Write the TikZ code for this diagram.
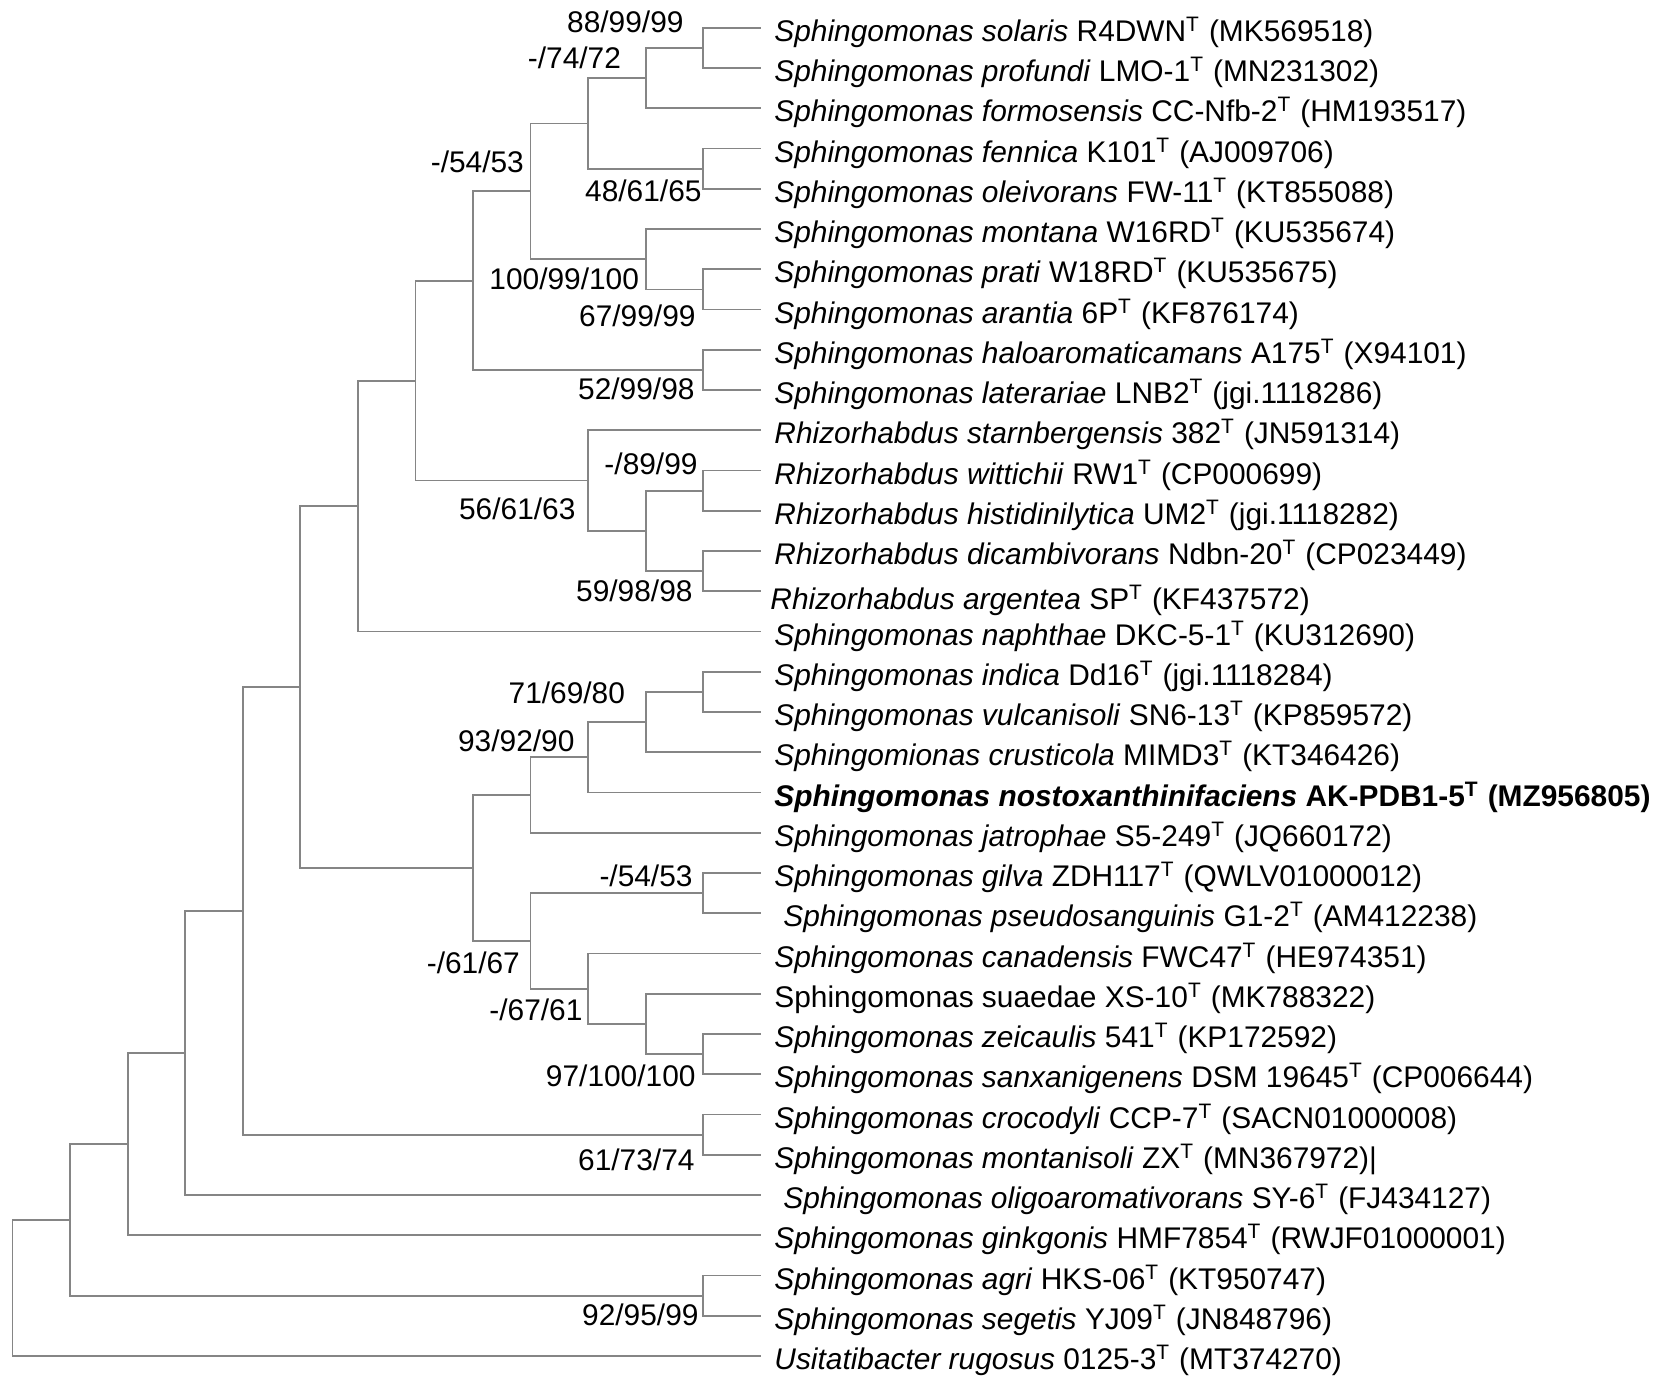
\documentclass[tikz,border=0pt]{standalone}
\usepackage{fontspec}
\setmainfont{Liberation Sans}
\usepackage{tikz}
\definecolor{branchgray}{gray}{0.52}
\tikzset{branch/.style={line width=0.5pt,color=branchgray}}
\tikzset{leaf/.style={anchor=base west,inner sep=0pt,xshift=0.13cm,yshift=-0.135cm}}
\tikzset{boot/.style={anchor=base east,inner sep=0pt}}
\newcommand{\typeT}{\textsuperscript{T}}

\begin{document}
\begin{tikzpicture}[x=0.5755cm,y=-0.4025cm,font=\fontsize{8.5}{10}\selectfont]
	\useasboundingbox (-0.219,-0.691) rectangle (28.556,33.794);
	% tips of the branches, one per strain
	\coordinate (t0) at (13,0);
	\coordinate (t1) at (13,1);
	\coordinate (t2) at (13,2);
	\coordinate (t3) at (13,3);
	\coordinate (t4) at (13,4);
	\coordinate (t5) at (13,5);
	\coordinate (t6) at (13,6);
	\coordinate (t7) at (13,7);
	\coordinate (t8) at (13,8);
	\coordinate (t9) at (13,9);
	\coordinate (t10) at (13,10);
	\coordinate (t11) at (13,11);
	\coordinate (t12) at (13,12);
	\coordinate (t13) at (13,13);
	\coordinate (t14) at (13,14);
	\coordinate (t15) at (13,15);
	\coordinate (t16) at (13,16);
	\coordinate (t17) at (13,17);
	\coordinate (t18) at (13,18);
	\coordinate (t19) at (13,19);
	\coordinate (t20) at (13,20);
	\coordinate (t21) at (13,21);
	\coordinate (t22) at (13,22);
	\coordinate (t23) at (13,23);
	\coordinate (t24) at (13,24);
	\coordinate (t25) at (13,25);
	\coordinate (t26) at (13,26);
	\coordinate (t27) at (13,27);
	\coordinate (t28) at (13,28);
	\coordinate (t29) at (13,29);
	\coordinate (t30) at (13,30);
	\coordinate (t31) at (13,31);
	\coordinate (t32) at (13,32);
	\coordinate (t33) at (13,33);

	% inner nodes: x is the depth, y the mean of the two children
	\coordinate (n1) at (12,0.5);
	\coordinate (n2) at (11,1.25);
	\coordinate (n3) at (12,3.5);
	\coordinate (n4) at (10,2.375);
	\coordinate (n5) at (12,6.5);
	\coordinate (n6) at (11,5.75);
	\coordinate (n7) at (9,4.0625);
	\coordinate (n8) at (12,8.5);
	\coordinate (n9) at (8,6.2813);
	\coordinate (n10) at (12,11.5);
	\coordinate (n11) at (12,13.5);
	\coordinate (n12) at (11,12.5);
	\coordinate (n13) at (10,11.25);
	\coordinate (n14) at (7,8.7656);
	\coordinate (n15) at (6,11.8828);
	\coordinate (n16) at (12,16.5);
	\coordinate (n17) at (11,17.25);
	\coordinate (n18) at (10,18.125);
	\coordinate (n19) at (9,19.0625);
	\coordinate (n20) at (12,21.5);
	\coordinate (n21) at (12,25.5);
	\coordinate (n22) at (11,24.75);
	\coordinate (n23) at (10,23.875);
	\coordinate (n24) at (9,22.6875);
	\coordinate (n25) at (8,20.875);
	\coordinate (n26) at (5,16.3789);
	\coordinate (n27) at (12,27.5);
	\coordinate (n28) at (4,21.9395);
	\coordinate (n29) at (3,25.4697);
	\coordinate (n30) at (2,27.7349);
	\coordinate (n31) at (12,31.5);
	\coordinate (n32) at (1,29.6174);
	\coordinate (n33) at (0,31.3087);

	% the branches
	\draw[branch] (t0) -| (n1) |- (t1);
	\draw[branch] (n1) -| (n2) |- (t2);
	\draw[branch] (t3) -| (n3) |- (t4);
	\draw[branch] (n2) -| (n4) |- (n3);
	\draw[branch] (t6) -| (n5) |- (t7);
	\draw[branch] (t5) -| (n6) |- (n5);
	\draw[branch] (n4) -| (n7) |- (n6);
	\draw[branch] (t8) -| (n8) |- (t9);
	\draw[branch] (n7) -| (n9) |- (n8);
	\draw[branch] (t11) -| (n10) |- (t12);
	\draw[branch] (t13) -| (n11) |- (t14);
	\draw[branch] (n10) -| (n12) |- (n11);
	\draw[branch] (t10) -| (n13) |- (n12);
	\draw[branch] (n9) -| (n14) |- (n13);
	\draw[branch] (n14) -| (n15) |- (t15);
	\draw[branch] (t16) -| (n16) |- (t17);
	\draw[branch] (n16) -| (n17) |- (t18);
	\draw[branch] (n17) -| (n18) |- (t19);
	\draw[branch] (n18) -| (n19) |- (t20);
	\draw[branch] (t21) -| (n20) |- (t22);
	\draw[branch] (t25) -| (n21) |- (t26);
	\draw[branch] (t24) -| (n22) |- (n21);
	\draw[branch] (t23) -| (n23) |- (n22);
	\draw[branch] (n20) -| (n24) |- (n23);
	\draw[branch] (n19) -| (n25) |- (n24);
	\draw[branch] (n15) -| (n26) |- (n25);
	\draw[branch] (t27) -| (n27) |- (t28);
	\draw[branch] (n26) -| (n28) |- (n27);
	\draw[branch] (n28) -| (n29) |- (t29);
	\draw[branch] (n29) -| (n30) |- (t30);
	\draw[branch] (t31) -| (n31) |- (t32);
	\draw[branch] (n30) -| (n32) |- (n31);
	\draw[branch] (n32) -| (n33) |- (t33);

	% strain names
	\node[leaf] (s0) at (t0) {\textit{Sphingomonas solaris} R4DWN\typeT{} (MK569518)};
	\node[leaf] (s1) at (t1) {\textit{Sphingomonas profundi} LMO-1\typeT{} (MN231302)};
	\node[leaf] (s2) at (t2) {\textit{Sphingomonas formosensis} CC-Nfb-2\typeT{} (HM193517)};
	\node[leaf] (s3) at (t3) {\textit{Sphingomonas fennica} K101\typeT{} (AJ009706)};
	\node[leaf] (s4) at (t4) {\textit{Sphingomonas oleivorans} FW-11\typeT{} (KT855088)};
	\node[leaf] (s5) at (t5) {\textit{Sphingomonas montana} W16RD\typeT{} (KU535674)};
	\node[leaf] (s6) at (t6) {\textit{Sphingomonas prati} W18RD\typeT{} (KU535675)};
	\node[leaf] (s7) at (t7) {\textit{Sphingomonas arantia} 6P\typeT{} (KF876174)};
	\node[leaf] (s8) at (t8) {\textit{Sphingomonas haloaromaticamans} A175\typeT{} (X94101)};
	\node[leaf] (s9) at (t9) {\textit{Sphingomonas laterariae} LNB2\typeT{} (jgi.1118286)};
	\node[leaf] (s10) at (t10) {\textit{Rhizorhabdus starnbergensis} 382\typeT{} (JN591314)};
	\node[leaf] (s11) at (t11) {\textit{Rhizorhabdus wittichii} RW1\typeT{} (CP000699)};
	\node[leaf] (s12) at (t12) {\textit{Rhizorhabdus histidinilytica} UM2\typeT{} (jgi.1118282)};
	\node[leaf] (s13) at (t13) {\textit{Rhizorhabdus dicambivorans} Ndbn-20\typeT{} (CP023449)};
	\node[leaf,xshift=-0.04cm,yshift=-0.045cm] (s14) at (t14) {\textit{Rhizorhabdus argentea} SP\typeT{} (KF437572)};
	\node[leaf] (s15) at (t15) {\textit{Sphingomonas naphthae} DKC-5-1\typeT{} (KU312690)};
	\node[leaf] (s16) at (t16) {\textit{Sphingomonas indica} Dd16\typeT{} (jgi.1118284)};
	\node[leaf] (s17) at (t17) {\textit{Sphingomonas vulcanisoli} SN6-13\typeT{} (KP859572)};
	\node[leaf] (s18) at (t18) {\textit{Sphingomionas crusticola} MIMD3\typeT{} (KT346426)};
	\node[leaf] (s19) at (t19) {\textbf{\textit{Sphingomonas nostoxanthinifaciens} AK-PDB1-5\typeT{} (MZ956805)}};
	\node[leaf] (s20) at (t20) {\textit{Sphingomonas jatrophae} S5-249\typeT{} (JQ660172)};
	\node[leaf] (s21) at (t21) {\textit{Sphingomonas gilva} ZDH117\typeT{} (QWLV01000012)};
	\node[leaf,xshift=0.09cm] (s22) at (t22) {\textit{Sphingomonas pseudosanguinis} G1-2\typeT{} (AM412238)};
	\node[leaf] (s23) at (t23) {\textit{Sphingomonas canadensis} FWC47\typeT{} (HE974351)};
	\node[leaf] (s24) at (t24) {Sphingomonas suaedae XS-10\typeT{} (MK788322)};
	\node[leaf] (s25) at (t25) {\textit{Sphingomonas zeicaulis} 541\typeT{} (KP172592)};
	\node[leaf] (s26) at (t26) {\textit{Sphingomonas sanxanigenens} DSM 19645\typeT{} (CP006644)};
	\node[leaf] (s27) at (t27) {\textit{Sphingomonas crocodyli} CCP-7\typeT{} (SACN01000008)};
	\node[leaf] (s28) at (t28) {\textit{Sphingomonas montanisoli} ZX\typeT{} (MN367972)|};
	\node[leaf,xshift=0.09cm] (s29) at (t29) {\textit{Sphingomonas oligoaromativorans} SY-6\typeT{} (FJ434127)};
	\node[leaf] (s30) at (t30) {\textit{Sphingomonas ginkgonis} HMF7854\typeT{} (RWJF01000001)};
	\node[leaf] (s31) at (t31) {\textit{Sphingomonas agri} HKS-06\typeT{} (KT950747)};
	\node[leaf] (s32) at (t32) {\textit{Sphingomonas segetis} YJ09\typeT{} (JN848796)};
	\node[leaf] (s33) at (t33) {\textit{Usitatibacter rugosus} 0125-3\typeT{} (MT374270)};

	% bootstrap values
	\node[boot] (b1) at ([xshift=-0.19cm,yshift=0.153cm]n1) {88/99/99};
	\node[boot] (b2) at ([xshift=-0.24cm,yshift=0.095cm]n2) {-/74/72};
	\node[boot] (b3) at ([xshift=-0.06cm,yshift=0.188cm]n7) {-/54/53};
	\node[boot] (b4) at ([xshift=-0.01cm,yshift=-0.325cm]n3) {48/61/65};
	\node[boot] (b5) at ([xshift=-0.06cm,yshift=-0.303cm]n6) {100/99/100};
	\node[boot] (b6) at ([xshift=-0.07cm,yshift=-0.369cm]n5) {67/99/99};
	\node[boot] (b7) at ([xshift=-0.08cm,yshift=-0.298cm]n8) {52/99/98};
	\node[boot] (b8) at ([xshift=-0.05cm,yshift=0.158cm]n10) {-/89/99};
	\node[boot] (b9) at ([xshift=-0.12cm,yshift=-0.393cm]n13) {56/61/63};
	\node[boot] (b10) at ([xshift=-0.10cm,yshift=-0.305cm]n11) {59/98/98};
	\node[boot] (b11) at ([xshift=-0.20cm,yshift=0.19cm]n17) {71/69/80};
	\node[boot] (b12) at ([xshift=-0.13cm,yshift=0.054cm]n18) {93/92/90};
	\node[boot] (b13) at ([xshift=-0.10cm,yshift=0.068cm]n20) {-/54/53};
	\node[boot] (b14) at ([xshift=-0.10cm,yshift=-0.328cm]n24) {-/61/67};
	\node[boot] (b15) at ([xshift=-0.05cm,yshift=-0.317cm]n23) {-/67/61};
	\node[boot] (b16) at ([xshift=-0.07cm,yshift=-0.324cm]n21) {97/100/100};
	\node[boot] (b17) at ([xshift=-0.08cm,yshift=-0.36cm]n27) {61/73/74};
	\node[boot] (b18) at ([xshift=-0.04cm,yshift=-0.302cm]n31) {92/95/99};
\end{tikzpicture}
\end{document}
